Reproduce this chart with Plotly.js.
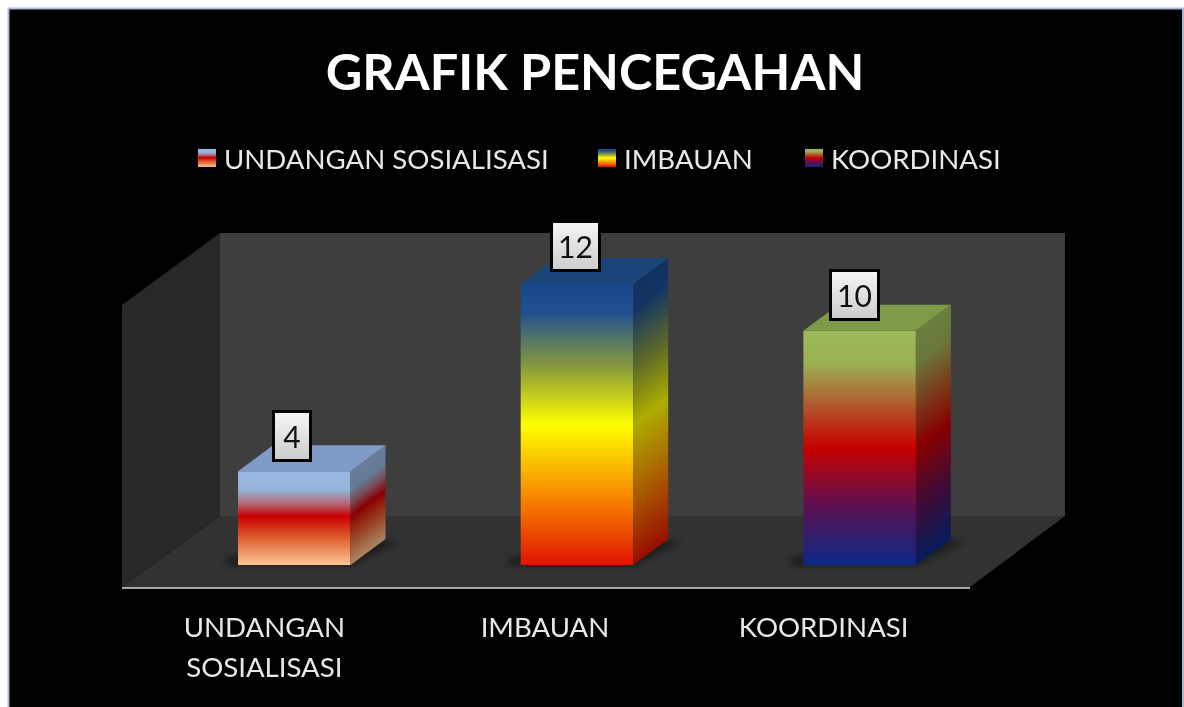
<!DOCTYPE html>
<html>
<head>
<meta charset="utf-8">
<script src="https://cdn.plot.ly/plotly-3.0.1.min.js"></script>
<style>html,body{margin:0;padding:0;background:#fff;overflow:hidden}#chart{width:1184px;height:707px;filter:blur(0.4px)}</style>
</head>
<body>
<div id="chart"></div>
<script>
const chartTitle = 'GRAFIK PENCEGAHAN';
const categories = ['UNDANGAN SOSIALISASI', 'IMBAUAN', 'KOORDINASI'];
const tickLabels = ['UNDANGAN<br>SOSIALISASI', 'IMBAUAN', 'KOORDINASI'];
const values = [4, 12, 10];

// front-face colour stops per bar, top to bottom [position, colour]
const gradients = [
  [[0,'#9ab7e6'],[0.2,'#95b3d7'],[0.34,'#b56a7c'],[0.48,'#c80000'],[0.7,'#df5a2c'],[1,'#fbc592']],
  [[0,'#17488c'],[0.1,'#1f5090'],[0.3,'#8a9c3a'],[0.5,'#ffff00'],[0.75,'#f88a00'],[1,'#e01400']],
  [[0,'#9bbb59'],[0.14,'#9bb055'],[0.5,'#c80000'],[0.75,'#5c1050'],[1,'#0b2a88']]
];
const topColors = ['#7f9bc8', '#1b4479', '#7f9a47'];

const L = 122, R = 970, T = 233, B = 587, W = 1184, H = 707;
const unitY = 23.42, unitX = (R - L) / 3;
const yMin = -(B - 565) / unitY, yMax = (565 - T) / unitY;
const barOffset = -25.3 / unitX, barWidth = 112.5 / unitX;
const depthX = 35 / unitX, depthY = 26 / unitY;

const px = x => (x - L) / (R - L);
const py = y => (B - y) / (B - T);
const poly = pts => 'M' + pts.map(p => px(p[0]) + ',' + py(p[1])).join('L') + 'Z';

const font = 'Lato, "Open Sans", sans-serif';

const traces = categories.map((c, i) => ({
  type: 'bar', name: c, x: [i], y: [values[i]], width: barWidth, offset: barOffset,
  marker: {color: gradients[i][0][1], line: {width: 0}}, hoverinfo: 'skip'
}));

values.forEach((v, i) => {
  const x0 = i + barOffset, x1 = x0 + barWidth;
  traces.push({
    type: 'scatter', mode: 'none', fill: 'toself', showlegend: false, hoverinfo: 'skip',
    x: [x1, x1 + depthX, x1 + depthX, x1, x1], y: [0, depthY, v + depthY, v, 0], fillcolor: '#444'
  });
  traces.push({
    type: 'scatter', mode: 'none', fill: 'toself', showlegend: false, hoverinfo: 'skip',
    x: [x0, x1, x1 + depthX, x0 + depthX, x0], y: [v, v, v + depthY, v + depthY, v], fillcolor: topColors[i]
  });
});

const shapes = [
  {type:'rect', xref:'paper', yref:'paper', x0:px(8.5), x1:px(1183), y0:py(8.5), y1:py(730), fillcolor:'#000', line:{color:'#aab8d6', width:2}, layer:'below'},
  {type:'path', xref:'paper', yref:'paper', path:poly([[220,233],[1065,233],[1065,516],[220,516]]), fillcolor:'#3e3e3e', line:{width:0}, layer:'below'},
  {type:'path', xref:'paper', yref:'paper', path:poly([[122,305],[220,233],[220,516],[122,587]]), fillcolor:'#282828', line:{width:0}, layer:'below'},
  {type:'path', xref:'paper', yref:'paper', path:poly([[122,587],[220,516],[1065,516],[970,587]]), fillcolor:'#323232', line:{width:0}, layer:'below'}
];
const firstShadow = shapes.length;
values.forEach((v, i) => {
  const x0 = i + barOffset - 12 / unitX, x1 = i + barOffset + barWidth;
  const dx = (depthX + 14 / unitX), dy = depthY;
  shapes.push({type:'path', xref:'x', yref:'y', layer:'below', fillcolor:'rgba(0,0,0,0.42)', line:{width:0},
    path:`M${x0},${-0.05}L${x1},${-0.05}L${x1 + dx},${dy * 0.9}L${x1 + 4 / unitX},${dy}L${x0},${dy * 0.3}Z`});
});

const annotations = values.map((v, i) => ({
  x: i, y: v, xref: 'x', yref: 'y', xanchor: 'center', yanchor: 'bottom', xshift: i === 2 ? 26 : 29, yshift: i === 0 ? 9 : (i === 1 ? 12 : 10),
  text: String(v), showarrow: false, font: {family: font, size: 30, color: '#111'},
  width: String(v).length > 1 ? 41 : 30, height: 42,
  bgcolor: '#e4e4e4', bordercolor: '#000', borderwidth: 3, borderpad: 2
}));

const layout = {
  width: W, height: H, autosize: false,
  margin: {l: L, r: W - R, t: T, b: H - B, pad: 0},
  paper_bgcolor: '#fff', plot_bgcolor: 'rgba(0,0,0,0)',
  barmode: 'overlay', hovermode: false,
  title: {text: '<b>' + chartTitle + '</b>', xref: 'container', yref: 'container', x: 595 / W, xanchor: 'center', y: 1 - 72 / H, yanchor: 'middle', font: {family: font, size: 50.4, color: '#fff'}},
  xaxis: {range: [-0.5, 2.5], tickmode: 'array', tickvals: [0, 1, 2], ticktext: tickLabels, showgrid: false, zeroline: false,
    showline: true, linecolor: '#a8a8a8', linewidth: 2, ticks: 'outside', ticklen: 15, tickcolor: 'rgba(0,0,0,0)',
    tickfont: {family: font, size: 27.6, color: '#e8e8e8'}, tickangle: 0, automargin: false, fixedrange: true},
  yaxis: {range: [yMin, yMax], showgrid: false, zeroline: false, showticklabels: false, showline: false, ticks: '', automargin: false, fixedrange: true},
  showlegend: true,
  legend: {orientation: 'h', x: px(176), xanchor: 'left', y: py(158), yanchor: 'middle', bgcolor: 'rgba(0,0,0,0)', borderwidth: 0,
    font: {family: font, size: 27.6, color: '#e8e8e8'}, itemwidth: 30, traceorder: 'normal', itemclick: false, itemdoubleclick: false},
  shapes, annotations
};

const NS = 'http://www.w3.org/2000/svg';
function shade(hex, f) {
  const n = parseInt(hex.slice(1), 16);
  const c = [n >> 16 & 255, n >> 8 & 255, n & 255].map(v => Math.round(v * f));
  return 'rgb(' + c.join(',') + ')';
}
function addGradient(defs, id, stops, f, y2, skew) {
  const g = document.createElementNS(NS, 'linearGradient');
  g.setAttribute('id', id);
  g.setAttribute('x1', '0'); g.setAttribute('y1', '0'); g.setAttribute('x2', '0'); g.setAttribute('y2', String(y2));
  if (skew) g.setAttribute('gradientTransform', `matrix(1 ${-skew} 0 1 0 ${skew})`);
  stops.forEach(s => {
    const st = document.createElementNS(NS, 'stop');
    st.setAttribute('offset', String(s[0]));
    st.setAttribute('stop-color', shade(s[1], f));
    g.appendChild(st);
  });
  defs.appendChild(g);
}

Plotly.newPlot('chart', traces, layout, {displayModeBar: false}).then(gd => {
  const svg = gd.querySelector('.main-svg');
  const defs = svg.querySelector('defs');
  values.forEach((v, i) => {
    addGradient(defs, 'front' + i, gradients[i], 1, 1, 0);
    const k = 26 / (v * unitY + 26);
    addGradient(defs, 'side' + i, gradients[i], 0.68, 1 - k, k);
  });
  gd.querySelectorAll('.barlayer .trace').forEach((t, i) => {
    t.querySelectorAll('path').forEach(p => { p.style.fill = `url(#front${i})`; });
  });
  gd.querySelectorAll('.scatterlayer .trace .js-fill').forEach((p, j) => {
    if (j % 2 === 0) p.style.fill = `url(#side${j / 2})`;
  });

  // legend: swatches with gradients, entries placed as in the picture
  const swatchLeft = [198, 598, 805];
  const scroll = gd.querySelector('.legend .scrollbox');
  if (scroll) scroll.removeAttribute('clip-path');
  gd.querySelectorAll('.legend .traces').forEach((t, i) => {
    const p = t.querySelector('path.legendbar') || t.querySelector('.legendpoints path');
    if (!p) return;
    p.setAttribute('d', 'M9,9H-9V-9H9Z');
    p.style.fill = `url(#front${i})`;
    const left = p.getBoundingClientRect().left;
    const m = /translate\(\s*([-\d.]+)[ ,]+([-\d.]+)/.exec(t.getAttribute('transform') || '') || [0, 0, 0];
    t.setAttribute('transform', `translate(${+m[1] + swatchLeft[i] - left},${+m[2]})`);
    const txt = t.querySelector('text.legendtext');
    if (txt) txt.setAttribute('x', String(parseFloat(txt.getAttribute('x')) - 3));
  });

  addGradient(defs, 'box', [[0, '#f6f6f6'], [1, '#cccccc']], 1, 1, 0);
  gd.querySelectorAll('.annotation rect.bg').forEach(r => { r.style.fill = 'url(#box)'; });

  const blur = document.createElementNS(NS, 'filter');
  blur.setAttribute('id', 'soft');
  blur.setAttribute('x', '-30%'); blur.setAttribute('y', '-30%'); blur.setAttribute('width', '160%'); blur.setAttribute('height', '160%');
  const fe = document.createElementNS(NS, 'feGaussianBlur');
  fe.setAttribute('stdDeviation', '3');
  blur.appendChild(fe); defs.appendChild(blur);
  gd.querySelectorAll('.shapelayer path').forEach(p => {
    if (+p.getAttribute('data-index') >= firstShadow) p.setAttribute('filter', 'url(#soft)');
  });

  // tick labels: 40px line pitch, label centres as in the picture
  const tickShift = [1, -1, -5];
  gd.querySelectorAll('.xtick text').forEach((t, i) => {
    const lines = t.querySelectorAll('tspan.line');
    if (lines.length > 1) {
      lines[1].removeAttribute('y');
      lines[1].setAttribute('dy', '40');
    }
    const g = t.parentNode;
    g.setAttribute('transform', `translate(${tickShift[i]},0) ` + (g.getAttribute('transform') || ''));
  });
});
</script>
</body>
</html>
